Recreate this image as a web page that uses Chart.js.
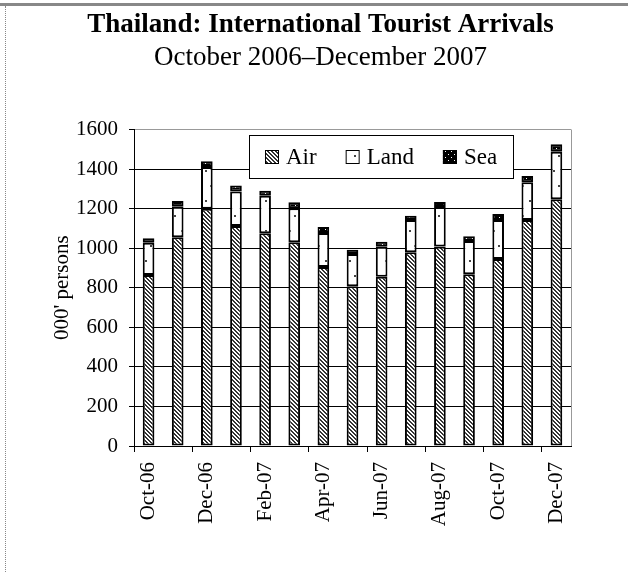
<!DOCTYPE html>
<html>
<head>
<meta charset="utf-8">
<script src="https://cdn.jsdelivr.net/npm/chart.js@4.4.1/dist/chart.umd.min.js"></script>
<style>
  body { margin: 0; background: #fff; }
  #wrap { position: relative; width: 628px; height: 572px; }
  #topline { position: absolute; left: 0; top: 3px; width: 628px; height: 3px; background: #888; }
  #leftline { position: absolute; left: 5px; top: 6px; height: 566px; border-left: 1px dotted #888; }
</style>
</head>
<body>
<div id="wrap">
  <canvas id="tourist_chart" width="628" height="572"></canvas>
  <div id="topline"></div>
  <div id="leftline"></div>
</div>
<script>
// monthly arrivals, 000' persons
var months = ['Oct-06', 'Nov-06', 'Dec-06', 'Jan-07', 'Feb-07', 'Mar-07', 'Apr-07', 'May-07',
              'Jun-07', 'Jul-07', 'Aug-07', 'Sep-07', 'Oct-07', 'Nov-07', 'Dec-07'];
var air  = [865, 1055, 1200, 1112, 1075, 1030, 905, 808, 855, 980, 1008, 868, 945, 1143, 1247];
var land = [163, 155, 210, 175, 190, 172, 172, 162, 152, 162, 200, 168, 198, 190, 240];
var sea  = [22, 28, 30, 30, 25, 30, 30, 22, 25, 22, 25, 24, 30, 32, 38];

var yTicks = [0, 200, 400, 600, 800, 1000, 1200, 1400, 1600];

var serif = '"Liberation Serif", "Times New Roman", serif';
Chart.defaults.font.family = serif;
Chart.defaults.color = '#000';

function makePattern(w, h, draw) {
    var c = document.createElement('canvas');
    c.width = w;
    c.height = h;
    var g = c.getContext('2d');
    draw(g);
    return g.createPattern(c, 'repeat');
}

// diagonal hatch for air
var airFill = makePattern(4, 4, function (g) {
    g.fillStyle = '#fff';
    g.fillRect(0, 0, 4, 4);
    g.fillStyle = '#333';
    for (var i = 0; i < 4; i++) {
        g.fillRect(i, i, 1, 1);
        g.fillRect((i + 1) % 4, i, 1, 1);
    }
});
// sparse dots for land
var landFill = makePattern(12, 30, function (g) {
    g.fillStyle = '#fff';
    g.fillRect(0, 0, 12, 30);
    g.fillStyle = '#444';
    g.fillRect(6, 5, 2, 2);
    g.fillRect(1, 20, 2, 2);
});
// black with white dots for sea
var seaFill = makePattern(6, 6, function (g) {
    g.fillStyle = '#000';
    g.fillRect(0, 0, 6, 6);
    g.fillStyle = '#fff';
    g.fillRect(1, 1, 1, 1);
    g.fillRect(4, 4, 1, 1);
});

// legend drawn as a framed box inside the plot area
var legendBox = {
    id: 'legendBox',
    afterDatasetsDraw: function (chart) {
        var ctx = chart.ctx, area = chart.chartArea;
        var sw = 14, gap = 7, space = 29, pad = 16, h = 43;
        ctx.save();
        ctx.font = '23px ' + serif;
        var items = chart.data.datasets.map(function (ds) {
            return { ds: ds, w: ctx.measureText(ds.label).width };
        });
        var total = space * (items.length - 1);
        items.forEach(function (it) { total += sw + gap + it.w; });
        var cx = area.left + 247;
        var top = Math.round(area.top + 5);
        var left = Math.round(cx - total / 2 - pad);
        ctx.fillStyle = '#fff';
        ctx.fillRect(left, top, total + 2 * pad, h);
        ctx.strokeStyle = '#000';
        ctx.lineWidth = 1;
        ctx.strokeRect(left + 0.5, top + 0.5, Math.round(total + 2 * pad), h);
        var x = Math.round(cx - total / 2), cy = top + h / 2;
        items.forEach(function (it) {
            ctx.fillStyle = it.ds.backgroundColor;
            ctx.fillRect(x, Math.round(cy - sw / 2), sw, sw);
            ctx.strokeRect(x + 0.5, Math.round(cy - sw / 2) + 0.5, sw - 1, sw - 1);
            ctx.fillStyle = '#000';
            ctx.textBaseline = 'middle';
            ctx.fillText(it.ds.label, x + sw + gap, cy + 1);
            x += sw + gap + it.w + space;
        });
        ctx.restore();
    }
};

// gray right edge of the plot area
var plotEdge = {
    id: 'plotEdge',
    beforeDatasetsDraw: function (chart) {
        var ctx = chart.ctx, area = chart.chartArea;
        ctx.save();
        ctx.strokeStyle = '#999';
        ctx.lineWidth = 1;
        ctx.beginPath();
        ctx.moveTo(Math.round(area.right) + 0.5, area.top);
        ctx.lineTo(Math.round(area.right) + 0.5, area.bottom);
        ctx.stroke();
        ctx.restore();
    }
};

var barStyle = { borderColor: '#000', borderWidth: 2, borderSkipped: false,
                 barPercentage: 0.8, categoryPercentage: 0.5 };

new Chart(document.getElementById('tourist_chart'), {
    type: 'bar',
    data: {
        labels: months,
        datasets: [
            Object.assign({ label: 'Air', data: air, backgroundColor: airFill }, barStyle),
            Object.assign({ label: 'Land', data: land, backgroundColor: landFill }, barStyle),
            Object.assign({ label: 'Sea', data: sea, backgroundColor: seaFill }, barStyle)
        ]
    },
    options: {
        responsive: false,
        animation: false,
        layout: { padding: { left: 13, right: 0, top: 0, bottom: 0 } },
        plugins: {
            legend: { display: false },
            tooltip: { enabled: false },
            title: {
                display: true,
                text: 'Thailand: International Tourist Arrivals',
                font: { size: 27, weight: 'bold' },
                color: '#000',
                padding: { top: 9, bottom: 0 }
            },
            subtitle: {
                display: true,
                text: 'October 2006–December 2007',
                font: { size: 27 },
                color: '#000',
                padding: { top: 0, bottom: 55.7 }
            }
        },
        scales: {
            x: {
                stacked: true,
                grid: {
                    offset: true,
                    drawOnChartArea: false,
                    tickLength: 6,
                    color: function (c) { return c.index % 2 === 0 ? '#000' : 'rgba(0,0,0,0)'; }
                },
                border: { color: '#000', width: 1 },
                ticks: {
                    autoSkip: false,
                    minRotation: 90,
                    maxRotation: 90,
                    padding: 10,
                    font: { size: 21 },
                    callback: function (v, i) { return i % 2 === 0 ? months[i] : ''; }
                },
                afterFit: function (scale) { scale.height = 126; }
            },
            y: {
                stacked: true,
                min: yTicks[0],
                max: yTicks[yTicks.length - 1],
                afterBuildTicks: function (scale) {
                    scale.ticks = yTicks.map(function (v) { return { value: v }; });
                },
                grid: {
                    color: function (c) { return c.tick && c.tick.value === 1600 ? '#999' : '#000'; },
                    tickColor: '#000',
                    tickLength: 5
                },
                border: { color: '#000', width: 1 },
                ticks: {
                    padding: 11,
                    font: { size: 21 },
                    callback: function (v) { return String(v); }
                },
                title: {
                    display: true,
                    text: "000' persons",
                    font: { size: 21 },
                    padding: { top: 37, bottom: 0 }
                },
                afterFit: function (scale) { scale.width = 121; }
            },
            // empty right-hand axis, only keeps space right of the plot
            yRight: {
                position: 'right',
                display: true,
                grid: { display: false },
                border: { display: false },
                ticks: { display: false },
                afterFit: function (scale) { scale.width = 57; }
            }
        }
    },
    plugins: [plotEdge, legendBox]
});
</script>
</body>
</html>
